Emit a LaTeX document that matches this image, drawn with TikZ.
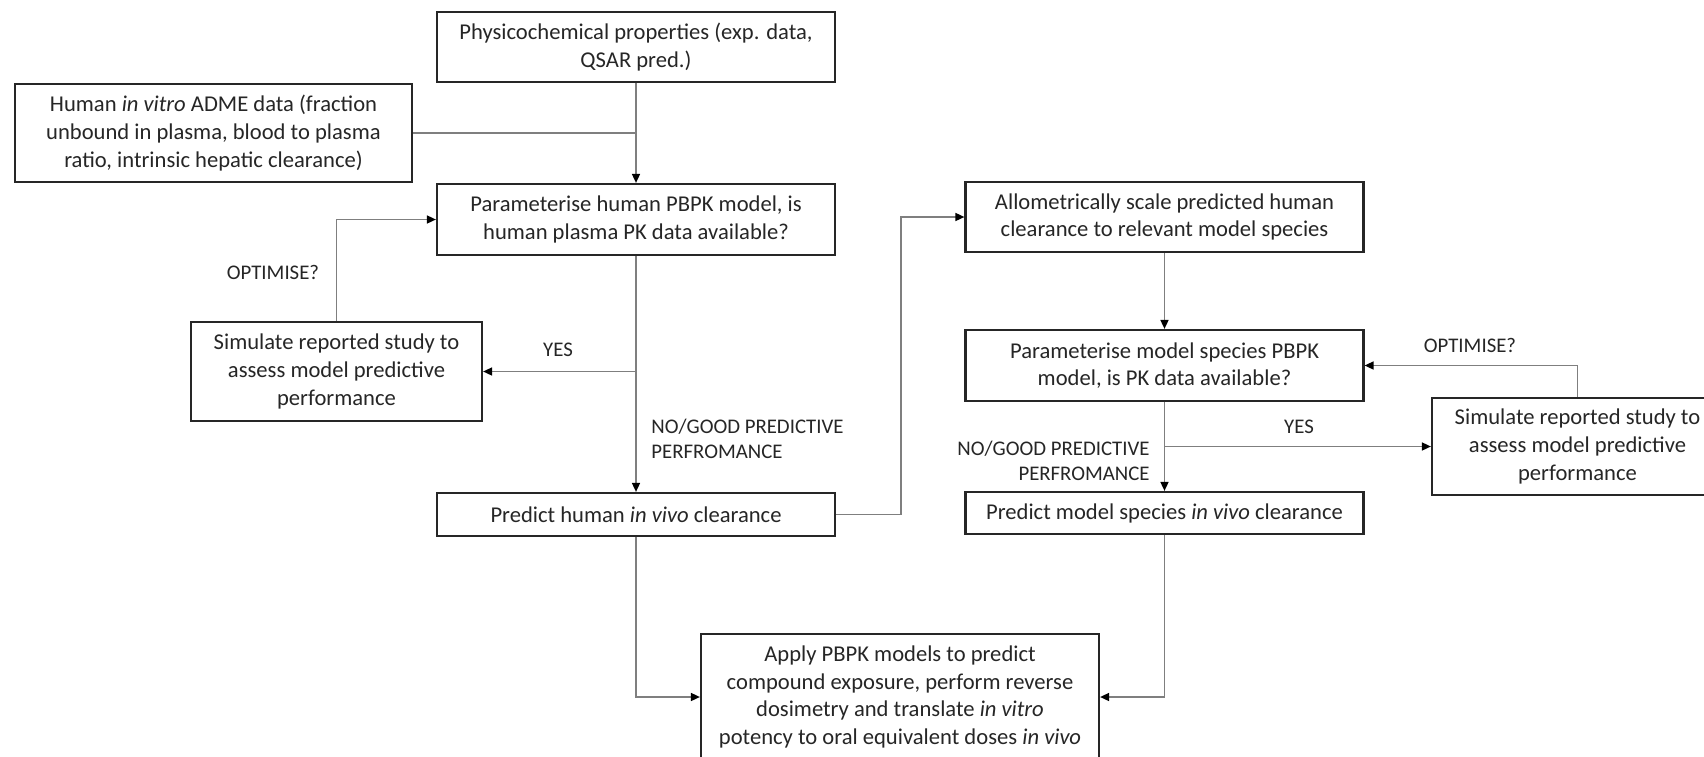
\documentclass[tikz,border=0pt]{standalone}
\usepackage{fontspec}
\setmainfont{Carlito}
\usetikzlibrary{arrows.meta}
\definecolor{txt}{HTML}{262626}
\definecolor{lin}{HTML}{7F7F7F}
\tikzset{
  box/.style={draw=black!85, line width=1.1pt, fill=white, inner sep=0pt, align=center, text=txt,
    font=\fontsize{11.3}{13.85}\selectfont},
  conn/.style={draw=lin, line width=0.8pt},
  arr/.style={conn, -{Triangle[length=4.5pt,width=4pt,color=black,fill=black]}},
  lbl/.style={inner sep=0pt, text=txt, font=\fontsize{10.4}{12.8}\selectfont}
}
\begin{document}
\begin{tikzpicture}[x=0.5pt,y=-0.5pt]
\useasboundingbox (0,0) rectangle (1704,756);
\clip (0,0) rectangle (1704,756);
\fill[white] (0,0) rectangle (1704,756);
% boxes
\node[box, minimum width=199pt, minimum height=35pt] (physico) at (636,47)
  {Physicochemical properties (exp. data,\\ QSAR pred.)};
\node[box, minimum width=198.5pt, minimum height=49pt] (adme) at (213.5,133)
  {Human \textit{in vitro} ADME data (fraction\\ unbound in plasma, blood to plasma\\ ratio, intrinsic hepatic clearance)};
\node[box, minimum width=199pt, minimum height=35.5pt] (param) at (636,219.5)
  {Parameterise human PBPK model, is\\ human plasma PK data available?};
\node[box, minimum width=145.5pt, minimum height=49.5pt] (simL) at (336.5,371.5)
  {Simulate reported study to\\ assess model predictive\\ performance};
\node[box, minimum width=199pt, minimum height=21.5pt] (predH) at (636,514.5)
  {Predict human \textit{in vivo} clearance};
\node[box, minimum width=199pt, minimum height=35pt] (allo) at (1164.5,217)
  {Allometrically scale predicted human\\ clearance to relevant model species};
\node[box, minimum width=199pt, minimum height=35.5pt] (paramM) at (1164.5,365.5)
  {Parameterise model species PBPK\\ model, is PK data available?};
\node[box, minimum width=145.5pt, minimum height=48.5pt] (simR) at (1577.5,446.5)
  {Simulate reported study to\\ assess model predictive\\ performance};
\node[box, minimum width=199pt, minimum height=21pt] (predM) at (1164.5,513)
  {Predict model species \textit{in vivo} clearance};
\node[box, minimum width=199pt, minimum height=63pt] (apply) at (900,697)
  {Apply PBPK models to predict\\ compound exposure, perform reverse\\ dosimetry and translate \textit{in vitro}\\ potency to oral equivalent doses \textit{in vivo}};
% bend coordinate
\coordinate (hbend) at (901,300);
% connectors
\draw[conn] (adme.east) -- (adme.east -| physico.south);
\draw[arr] (physico.south) -- (param.north);
\draw[arr] (simL.north) |- (param.west);
\draw[arr] (param.south) -- (predH.north);
\draw[arr] (param.south |- simL.east) -- (simL.east);
\draw[arr] (predH.east) -- (predH.east -| hbend) -- (hbend |- allo.west) -- (allo.west);
\draw[arr] (allo.south) -- (paramM.north);
\draw[arr] (paramM.south) -- (predM.north);
\draw[arr] (paramM.south |- simR.west) -- (simR.west);
\draw[arr] (simR.north) |- (paramM.east);
\draw[arr] (predH.south) |- (apply.west);
\draw[arr] (predM.south) |- (apply.east);
% labels
\node[lbl] (optL) at (273,272) {OPTIMISE?};
\node[lbl] (yesL) at (558,350) {YES};
\node[lbl, anchor=west, align=left] (noL) at (651,439) {NO/GOOD PREDICTIVE\\ PERFROMANCE};
\node[lbl] (optR) at (1470,345) {OPTIMISE?};
\node[lbl] (yesR) at (1299,427) {YES};
\node[lbl, anchor=east, align=right] (noR) at (1150,461) {NO/GOOD PREDICTIVE\\ PERFROMANCE};
\end{tikzpicture}
\end{document}
